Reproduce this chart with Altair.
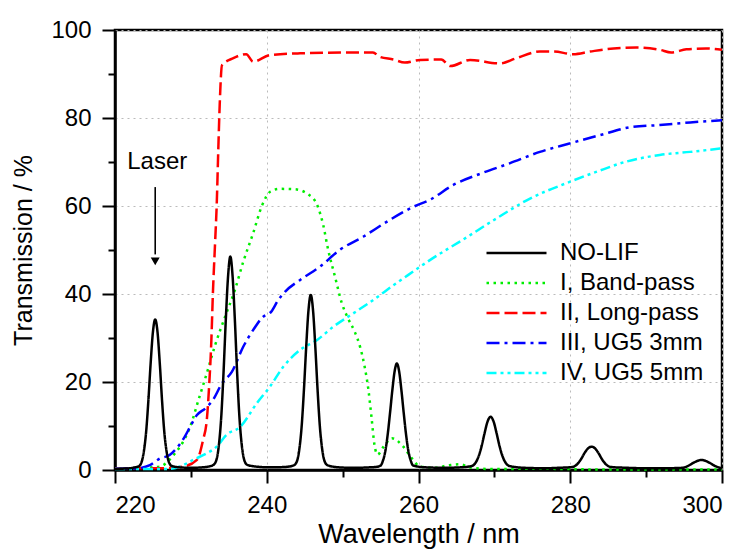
import altair as alt
import pandas as pd

# ---- data ----
nolif_wl = [220, 221, 222, 222.6, 223.1, 223.5, 223.8, 224.1, 224.4, 224.7, 225.0, 225.3, 225.6, 225.9, 226.2, 226.5, 226.8, 227.1, 227.5,
            228.5, 230, 231.5, 232.4,
            233.0, 233.4, 233.7, 234.0, 234.3, 234.6, 234.9, 235.2, 235.5, 235.8, 236.1, 236.4, 236.7, 237.0, 237.4,
            238.5, 240.5, 242.5,
            243.6, 244.0, 244.3, 244.6, 244.9, 245.2, 245.5, 245.8, 246.1, 246.4, 246.7, 247.0, 247.3, 247.6, 248.0,
            249.5, 251.5, 253.5, 254.4,
            255.0, 255.35, 255.65, 255.95, 256.25, 256.55, 256.85, 257.15, 257.45, 257.75, 258.05, 258.35, 258.65, 258.95, 259.3,
            261, 263.5, 265.5,
            267.0, 267.5, 267.9, 268.3, 268.7, 269.1, 269.5, 269.9, 270.3, 270.7, 271.1, 271.5, 272.0,
            274, 276.5, 278.5,
            280.3, 280.9, 281.4, 281.9, 282.4, 282.8, 283.2, 283.7, 284.2, 284.7, 285.3,
            287.5, 290, 292.5,
            294.8, 295.5, 296.2, 296.8, 297.3, 297.8, 298.4, 299.1, 300]
nolif_t = [0.2, 0.3, 0.4, 0.6, 0.8, 1.8, 4.2, 8.6, 15.8, 24.3, 31.4, 34.2, 31.4, 24.3, 15.8, 8.6, 4.2, 1.8, 0.9,
           0.6, 0.5, 0.6, 0.8,
           1.2, 2.5, 5.8, 12, 22, 34, 44, 48.5, 44, 34, 22, 12, 5.8, 2.5, 1.2,
           0.8, 0.6, 0.7,
           1.1, 2.1, 4.8, 9.9, 18.2, 28, 36.3, 39.8, 36.3, 28, 18.2, 9.9, 4.8, 2.1, 1.1,
           0.6, 0.5, 0.6, 0.7,
           1.0, 2.3, 4.5, 8.2, 13, 18.1, 22.4, 24.2, 22.4, 18.1, 13, 8.2, 4.5, 2.3, 1.0,
           0.6, 0.5, 0.6,
           0.9, 1.6, 3.0, 5.3, 8.3, 11, 12.1, 11, 8.3, 5.3, 3.0, 1.6, 0.9,
           0.5, 0.4, 0.5,
           0.7, 1.3, 2.4, 3.9, 5.0, 5.3, 5.0, 3.9, 2.4, 1.3, 0.7,
           0.5, 0.4, 0.4,
           0.5, 0.9, 1.6, 2.1, 2.3, 2.1, 1.6, 0.9, 0.4]

band_wl = [220, 222, 224, 226, 227, 228, 229, 229.9, 231, 232.1, 233.2, 234.5, 235.8, 236.9, 238.2, 239.4, 240.5, 241.7,
           243.7, 245.6, 246.7, 247.4, 248.1, 249.0, 249.9, 250.7, 251.6, 252.3, 252.9, 253.4, 253.8, 254.2, 254.6,
           255.4, 256.5, 258, 259.1, 260.2, 262, 264.1, 265.5, 267, 270, 275, 280, 285, 290, 300]
band_t = [0.3, 0.3, 0.5, 0.8, 2.0, 4.0, 6.5, 9.8, 15.9, 22, 28.4, 34.8, 40.9, 47.3, 53.8, 60.2, 63.3, 63.9,
          63.8, 62.5, 60, 56, 50, 43.9, 37.9, 34.5, 31.4, 28, 23.5, 18.2, 12.1, 5.7, 3.5,
          5.3, 7.2, 5.3, 2.7, 0.8, 0.5, 1.1, 1.3, 0.5, 0.2, 0.3, 0.2, 0.1, 0.1, 0.1]

long_wl = [220, 223, 225.9, 229, 230.8, 231.6, 232.1, 232.4, 232.7, 232.9, 233.2, 233.4, 233.6, 233.8, 234.1, 235.6, 237.3,
           238.2, 240.4, 244.4, 251.8, 254.0, 254.9, 256.7, 258.2, 260.2, 263.0, 264.2, 266.8, 270.7, 272.9, 276.0,
           277.8, 280.4, 282.6, 285.7, 288.7, 291.8, 293.3, 295.3, 297.9, 300]
long_t = [0.4, 0.4, 0.4, 0.8, 2.3, 6.8, 11.4, 18.9, 29.5, 40, 52, 60, 72, 83, 92, 93.6, 94.5,
          92.8, 94.3, 94.7, 94.9, 94.9, 93.9, 93.3, 92.6, 93.2, 93.3, 91.8, 93.2, 92.4, 93.6, 95.1,
          95.1, 94.5, 95.1, 95.8, 96, 95.5, 94.9, 95.6, 95.8, 95.5]

ug3_wl = [220, 222.9, 224.6, 225.9, 227.2, 228.1, 229.2, 229.9, 230.8, 231.9, 232.9, 234.1, 235.4, 236.9, 238.2, 239.5,
          240.6, 241.5, 242.4, 244.4, 247.0, 249.6, 252.7, 255.8, 259.3, 261.5, 264.6, 268.1, 272.0, 276.0, 279.9,
          283.9, 287.9, 291.8, 295.8, 300]
ug3_t = [0.3, 0.4, 1.1, 2.6, 3.4, 4.9, 7.6, 9.8, 12.5, 14, 15.9, 19.7, 22.3, 28, 31.8, 34.8,
         36, 38.6, 40.5, 43.2, 46.2, 50, 53, 56.4, 59.8, 61.4, 64.8, 67.3, 69.7, 72.3, 74.2,
         76.1, 77.9, 78.4, 79.0, 79.5]

ug5_wl = [220, 222.4, 226.8, 228.6, 230.3, 232.1, 233.4, 234.7, 236.5, 238.7, 240.4, 242.2, 244.4, 246.6, 248.8, 251.4,
          254.0, 256.7, 259.3, 261.5, 266.0, 270.3, 274.7, 279.5, 283.5, 287.4, 291.8, 295.8, 300]
ug5_t = [0.2, 0.2, 0.2, 0.8, 2.3, 3.8, 5.3, 8, 9.8, 15.2, 18.9, 23.5, 27.3, 29.5, 32.6, 35.6,
         38.6, 42, 45.1, 47.7, 52.5, 57.2, 61.7, 65.2, 67.8, 70.1, 71.6, 72.3, 73.1]

series_names = ["NO-LIF", "I, Band-pass", "II, Long-pass", "III, UG5 3mm", "IV, UG5 5mm"]
series_colors = ["#000000", "#00ee00", "#ff0000", "#0000ff", "#00ffff"]
series_dashes = [[1, 0], [2.5, 4.5], [13, 5], [13, 5, 3, 5], [10, 4, 3, 4, 3, 4]]

x_ticks = [220, 230, 240, 250, 260, 270, 280, 290, 300]
y_ticks = [0, 10, 20, 30, 40, 50, 60, 70, 80, 90, 100]

laser_x = [225.3]
laser_text_y = [70]
laser_arrow_top = [64.3]
laser_arrow_bottom = [49]
laser_tip = [47.4]

# ---- build table ----
rows = []
order_draw = [("I, Band-pass", band_wl, band_t, 1), ("II, Long-pass", long_wl, long_t, 2),
              ("III, UG5 3mm", ug3_wl, ug3_t, 3), ("IV, UG5 5mm", ug5_wl, ug5_t, 4),
              ("NO-LIF", nolif_wl, nolif_t, 5)]
for name, wl, t, o in order_draw:
    for a, b in zip(wl, t):
        rows.append({"series": name, "wl": a, "t": b, "o": o})
df = pd.DataFrame(rows)

FONT = "Liberation Sans"
xscale = alt.Scale(domain=[220, 300], nice=False, zero=False)
yscale = alt.Scale(domain=[0, 100], nice=False)

major = "datum.value % 20 === 0"


def make_axis(vals, label_pad, title_size, title_pad):
    return alt.Axis(values=vals, ticks=True, tickSize=13,
                    tickDash={"condition": {"test": major, "value": [13, 0]}, "value": [7, 20]},
                    tickWidth=2, tickColor="black",
                    domainWidth=2.5, domainColor="black",
                    labelExpr="datum.value % 20 === 0 ? datum.label : ''",
                    labelFontSize=24, labelFont=FONT, labelColor="black", labelPadding=label_pad,
                    titleFontSize=title_size, titleFont=FONT, titleFontWeight="normal", titleColor="black",
                    titlePadding=title_pad, grid=True, gridDash=[2, 4], gridColor="#bbbbbb", gridWidth=1,
                    gridOpacity={"condition": {"test": major, "value": 1}, "value": 0})


legend = alt.Legend(title=None, orient="none", legendX=370, legendY=212,
                    symbolType="stroke", symbolSize=3600, symbolStrokeWidth=2.5,
                    labelFontSize=24, labelFont=FONT, labelColor="black",
                    clipHeight=22, rowPadding=6, labelOffset=12, labelLimit=300)

lines = alt.Chart(df).mark_line(strokeWidth=2.5, interpolate="monotone").encode(
    x=alt.X("wl:Q", scale=xscale, axis=make_axis(x_ticks, 10, 27, 4), title="Wavelength / nm"),
    y=alt.Y("t:Q", scale=yscale, axis=make_axis(y_ticks, 11, 25, 14), title="Transmission / %"),
    color=alt.Color("series:N", scale=alt.Scale(domain=series_names, range=series_colors), legend=legend),
    strokeDash=alt.StrokeDash("series:N", scale=alt.Scale(domain=series_names, range=series_dashes), legend=legend),
    order=alt.Order("o:Q"),
    detail="series:N",
)

ann = pd.DataFrame({"x": laser_x, "ty": laser_text_y, "a1": laser_arrow_top, "a2": laser_arrow_bottom,
                    "tip": laser_tip, "label": ["Laser"]})
laser_text = alt.Chart(ann).mark_text(font=FONT, fontSize=24, color="black", baseline="middle", align="center",
                                      dx=2).encode(
    x=alt.X("x:Q", scale=xscale), y=alt.Y("ty:Q", scale=yscale), text="label:N")
laser_rule = alt.Chart(ann).mark_rule(color="black", strokeWidth=1.6).encode(
    x=alt.X("x:Q", scale=xscale), y=alt.Y("a1:Q", scale=yscale), y2="a2:Q")
laser_head = alt.Chart(ann).mark_point(shape="triangle-down", filled=True, color="black", size=80, opacity=1).encode(
    x=alt.X("x:Q", scale=xscale), y=alt.Y("tip:Q", scale=yscale))

chart = alt.layer(lines, laser_rule, laser_head, laser_text).properties(
    width=607, height=440,
    autosize=alt.AutoSizeParams(type="none"),
    padding={"left": 115, "top": 30, "right": 22, "bottom": 79},
).configure_view(stroke="black", strokeWidth=2.5)

chart.save("out.html", embed_options={"renderer": "svg", "actions": False})
